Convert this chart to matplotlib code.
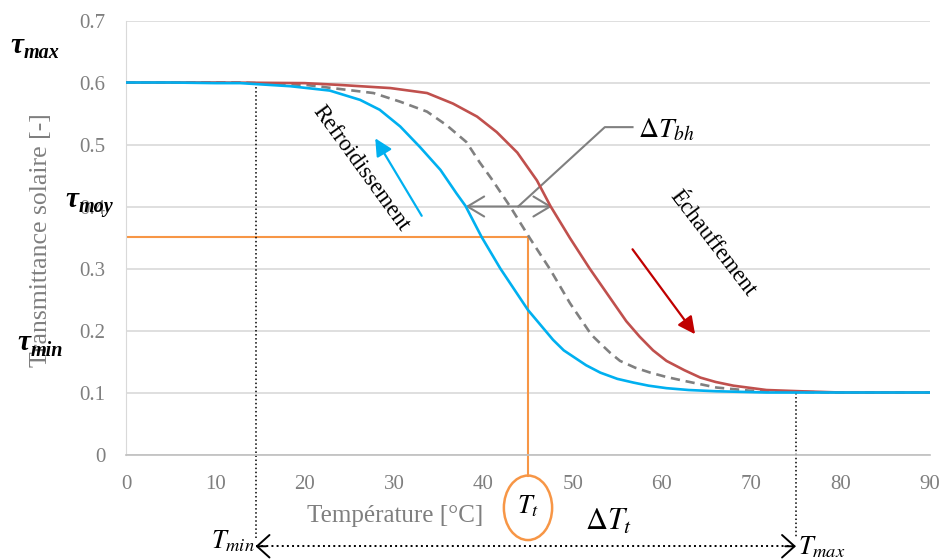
import matplotlib
matplotlib.use('Agg')
import matplotlib.pyplot as plt
from matplotlib.patches import Ellipse

plt.rcParams['font.family'] = ['Liberation Serif', 'DejaVu Serif']
plt.rcParams['mathtext.fontset'] = 'stix'

# cooling curve (blue)
t_cool = [0, 5, 10, 12.8, 18.4, 22.8, 26.2, 28.4, 30.7, 32.9, 35.2, 37.0, 38.0, 39.8, 41.9,
          45.0, 47.8, 49.0, 51.5, 53.1, 55.0, 56.8, 58.5, 60.5, 63.0, 66.1, 71.7, 80, 90]
tau_cool = [0.600, 0.600, 0.599, 0.599, 0.594, 0.587, 0.572, 0.556, 0.529, 0.496, 0.459, 0.421, 0.401,
            0.351, 0.300, 0.233, 0.185, 0.168, 0.144, 0.132, 0.122, 0.116, 0.111, 0.107, 0.104,
            0.102, 0.100, 0.100, 0.100]
# mean curve (grey dashed)
t_mean = [0, 10, 12.8, 20.2, 27.7, 30.7, 33.7, 35.9, 38.1, 39.6, 40.9, 43.0, 45.2, 47.5, 49.7,
          52.1, 53.1, 54.2, 55.3, 57.0, 58.7, 60.5, 62.4, 66.1, 69.8, 74.6, 80, 90]
tau_mean = [0.600, 0.600, 0.600, 0.596, 0.583, 0.569, 0.553, 0.531, 0.504, 0.471, 0.445, 0.400, 0.349,
            0.298, 0.244, 0.193, 0.179, 0.164, 0.151, 0.140, 0.132, 0.125, 0.119, 0.108, 0.103,
            0.101, 0.100, 0.100]
# heating curve (red)
t_heat = [0, 10, 20, 24.0, 29.6, 33.7, 36.6, 39.3, 41.5, 43.8, 46.0, 47.5, 49.7, 51.9, 54.6, 56.0,
          57.5, 59.0, 60.5, 62.5, 64.3, 66.0, 68.0, 71.7, 75.5, 80, 90]
tau_heat = [0.600, 0.600, 0.599, 0.596, 0.591, 0.583, 0.566, 0.545, 0.520, 0.487, 0.442, 0.401, 0.349,
            0.300, 0.244, 0.215, 0.190, 0.168, 0.151, 0.136, 0.124, 0.117, 0.111, 0.104, 0.102,
            0.100, 0.100]

xticks = [0, 10, 20, 30, 40, 50, 60, 70, 80, 90]
yticks = [0, 0.1, 0.2, 0.3, 0.4, 0.5, 0.6, 0.7]
ytick_labels = ['0', '0.1', '0.2', '0.3', '0.4', '0.5', '0.6', '0.7']

t_min, t_max, t_t, tau_moy = 14.5, 75.0, 45.0, 0.351

W, H = 939, 560
fig = plt.figure(figsize=(W / 100, H / 100), dpi=100)
ax = fig.add_axes([126 / W, 1 - 454.5 / H, (930 - 126) / W, (454.5 - 20.5) / H])

grey = '#7f7f7f'
ax.plot(t_heat, tau_heat, color='#c0504d', lw=1.9, zorder=4)
ax.plot(t_mean, tau_mean, color='#808080', lw=1.9, linestyle=(0, (3.5, 2.2)), zorder=3)
ax.plot(t_cool, tau_cool, color='#00b0f0', lw=1.9, zorder=4)

ax.set_xlim(0, 90)
ax.set_ylim(0, 0.7)
ax.set_xticks(xticks)
ax.set_yticks(yticks)
ax.set_yticklabels(ytick_labels)
ax.tick_params(length=0, labelsize=15, labelcolor=grey)
ax.tick_params(axis='x', pad=15)
ax.tick_params(axis='y', pad=15)
ax.grid(axis='y', color='#d9d9d9', lw=1.2)
ax.set_axisbelow(True)
for s in ['top', 'right']:
    ax.spines[s].set_visible(False)
ax.spines['bottom'].set_color('#bfbfbf')
ax.spines['left'].set_color('#d9d9d9')
ax.spines['bottom'].set_linewidth(1.2)

ax.set_xlabel('Température [°C]', fontsize=18, color=grey)
ax.xaxis.set_label_coords((395 - 126) / 804, -(505 - 454.5) / 434)
ax.set_ylabel('Transmittance solaire [-]', fontsize=18.5, color=grey)
ax.yaxis.set_label_coords(-(126 - 52) / 804, 0.494)

# orange: tau_moy / T_t
ax.plot([0, t_t], [tau_moy, tau_moy], color='#f79646', lw=1.5, zorder=2)
ax.plot([t_t, t_t], [tau_moy, -0.034], color='#f79646', lw=1.5, clip_on=False, zorder=2)
ax.add_patch(Ellipse((t_t, -0.086), 5.4, 0.104, fill=False, ec='#f79646', lw=1.8, clip_on=False))
ax.text(t_t, -0.083, r'$T_t$', fontsize=19, ha='center', va='center')

# dotted limits
ax.plot([t_min, t_min], [0.6, -0.135], color='black', lw=1.1, linestyle=':', clip_on=False)
ax.plot([t_max, t_max], [0.1, -0.135], color='black', lw=1.1, linestyle=':', clip_on=False)
ax.plot([t_min, t_max], [-0.148, -0.148], color='black', lw=1.4, linestyle=':', clip_on=False)
for x0, x1 in [(t_min, t_min + 1.2), (t_max, t_max - 1.2)]:
    ax.annotate('', xy=(x0, -0.148), xytext=(x1, -0.148), annotation_clip=False,
                arrowprops=dict(arrowstyle='->,head_length=0.5,head_width=0.45', lw=1.4,
                                mutation_scale=18, color='black', shrinkA=0, shrinkB=0))
ax.text(14.4, -0.140, r'$T_{min}$', fontsize=19, ha='right', va='center')
ax.text(75.2, -0.150, r'$T_{max}$', fontsize=19, ha='left', va='center')
ax.text(54.0, -0.109, r'$\Delta T_t$', fontsize=22, ha='center', va='center')

# hysteresis width
ax.annotate('', xy=(38.0, 0.4), xytext=(47.7, 0.4),
            arrowprops=dict(arrowstyle='<->,head_length=0.5,head_width=0.3', lw=1.5,
                            mutation_scale=24, color='#808080', shrinkA=0, shrinkB=0))
ax.plot([43.9, 53.6, 56.7], [0.4, 0.528, 0.528], color='#808080', lw=1.5)
ax.text(57.3, 0.523, r'$\Delta T_{bh}$', fontsize=20, ha='left', va='center')

# direction arrows
ax.annotate('', xy=(27.9, 0.510), xytext=(33.1, 0.385),
            arrowprops=dict(arrowstyle='-|>', lw=1.6, mutation_scale=26, color='#00b0f0',
                            shrinkA=0, shrinkB=0))
ax.annotate('', xy=(63.7, 0.194), xytext=(56.7, 0.331),
            arrowprops=dict(arrowstyle='-|>', lw=1.6, mutation_scale=26, color='#c00000',
                            shrinkA=0, shrinkB=0))
ax.text(26.3, 0.462, 'Refroidissement', fontsize=16.5, rotation=-54, ha='center', va='center',
        rotation_mode='anchor')
ax.text(65.7, 0.340, 'Échauffement', fontsize=16.5, rotation=-52.5, ha='center', va='center',
        rotation_mode='anchor')

# tau labels on the left (bold italic)
tau_kw = dict(fontweight='bold', style='italic', va='baseline', ha='left')
for x_tau, y_tau, x_sub, y_sub, sub in [(10, 53, 24, 58, 'max'),
                                        (65, 207, 79, 212, 'moy'),
                                        (17, 350, 31, 356, 'min')]:
    fig.text(x_tau / W, 1 - y_tau / H, 'τ', fontsize=21, **tau_kw)
    fig.text(x_sub / W, 1 - y_sub / H, sub, fontsize=14.5, **tau_kw)

fig.savefig('out.png', dpi=100)
